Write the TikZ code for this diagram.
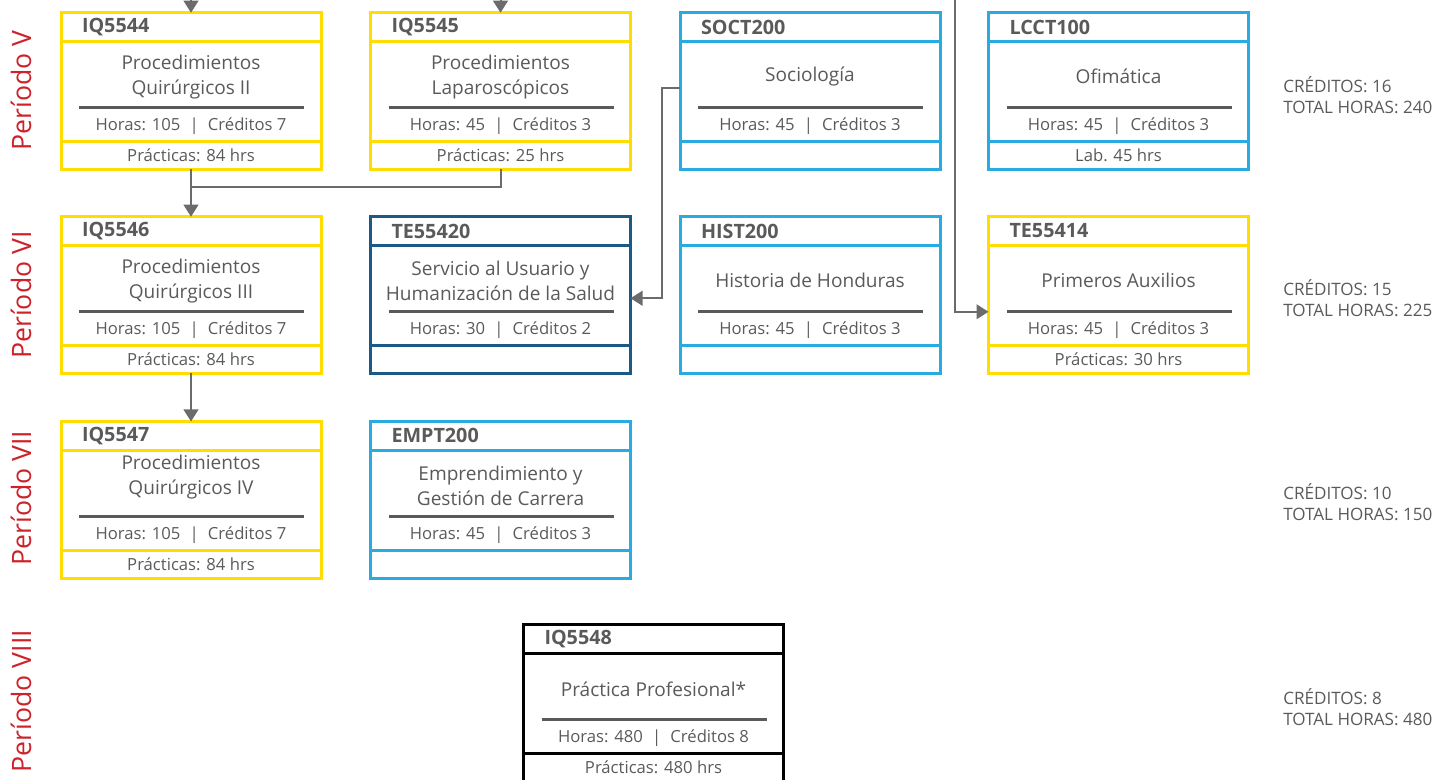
\documentclass[tikz,border=0pt]{standalone}
\usepackage{fontspec}
\setmainfont{Open Sans}
\usetikzlibrary{positioning,calc,arrows.meta}

\definecolor{amarillo}{HTML}{FFDD00}
\definecolor{celeste}{HTML}{29ABE2}
\definecolor{azul}{HTML}{1B5A86}
\definecolor{gristexto}{HTML}{5A5A5A}
\definecolor{grislinea}{HTML}{6B6B6B}
\definecolor{rojo}{HTML}{CC2229}

\tikzset{
  caja/.style={rectangle, line width=2.25pt, outer sep=0pt, inner sep=0pt,
    minimum width=195pt, text=gristexto},
  cab/.style={caja, minimum height=21.4pt, inner xsep=15.75pt, text width=163.5pt,
    align=left, font=\bfseries\fontsize{14.8}{16}\selectfont},
  cuerpo/.style={caja, minimum height=75pt},
  pie/.style={caja, minimum height=21pt, font=\fontsize{12.5}{14}\selectfont},
  titulo/.style={align=center, text=gristexto, inner sep=0pt,
    font=\fontsize{14.3}{18.75}\selectfont},
  horas/.style={text=gristexto, inner sep=0pt, font=\fontsize{12.5}{14}\selectfont},
  regla/.style={draw=gristexto, line width=2.25pt},
  periodo/.style={rotate=90, text=rojo, inner sep=0pt, font=\fontsize{20}{22}\selectfont},
  creditos/.style={anchor=west, align=left, text=gristexto, inner sep=0pt,
    font=\fontsize{12.8}{15.75}\selectfont},
  conector/.style={draw=grislinea, line width=1.5pt},
  flecha/.style={conector, -{Triangle[width=11pt,length=9pt]}}
}

\def\tituloy{35.5}
\newcommand{\sep}{\hspace{0.55em}|\hspace{0.55em}}
% #1 nombre, #2 x, #3 y, #4 color, #5 codigo, #6 titulo, #7 horas, #8 creditos, #9 pie
\newcommand{\materia}[9]{%
  \node[cab, draw=#4] (#1-c) at (#2,#3) {#5};
  \node[cuerpo, draw=#4, below=0pt of #1-c] (#1-m) {};
  \node[pie, draw=#4, below=0pt of #1-m] (#1-p) {#9};
  \node[titulo] (#1-t) at ($(#1-m.north)+(0,\tituloy)$) {#6};
  \coordinate (#1-rw) at ($(#1-m.north west)+(18,66.5)$);
  \coordinate (#1-re) at ($(#1-m.north east)+(-17,66.5)$);
  \draw[regla] (#1-rw) -- (#1-re);
  \node[horas] (#1-h) at ($(#1-m.north)+(0,85)$) {Horas: #7\sep Créditos #8};
}

\begin{document}
\begin{tikzpicture}[x=0.75pt, y=-0.75pt]
  \useasboundingbox (0,0) rectangle (1439,779);

  % periodos
  \node[periodo] (p5) at (21,90.5) {Período V};
  \node[periodo] (p6) at (21,295) {Período VI};
  \node[periodo] (p7) at (21,498) {Período VII};
  \node[periodo] (p8) at (21,701) {Período VIII};

  % periodo V
  \materia{iq5544}{191}{27}{amarillo}{IQ5544}{Procedimientos\\Quirúrgicos II}{105}{7}{Prácticas: 84 hrs}
  \materia{iq5545}{500.5}{27}{amarillo}{IQ5545}{Procedimientos\\Laparoscópicos}{45}{3}{Prácticas: 25 hrs}
  \materia{soct200}{810}{27}{celeste}{SOCT200}{Sociología}{45}{3}{}
  \materia{lcct100}{1118.5}{27}{celeste}{LCCT100}{Ofimática}{45}{3}{Lab. 45 hrs}

  % periodo VI
  \materia{iq5546}{191}{231}{amarillo}{IQ5546}{Procedimientos\\Quirúrgicos III}{105}{7}{Prácticas: 84 hrs}
  \materia{te55420}{500.5}{231}{azul}{TE55420}{Servicio al Usuario y\\Humanización de la Salud}{30}{2}{}
  \materia{hist200}{810}{231}{celeste}{HIST200}{Historia de Honduras}{45}{3}{}
  \materia{te55414}{1118.5}{231}{amarillo}{TE55414}{Primeros Auxilios}{45}{3}{Prácticas: 30 hrs}

  % periodo VII
  \def\tituloy{27.5}
  \materia{iq5547}{191}{435.75}{amarillo}{IQ5547}{Procedimientos\\Quirúrgicos IV}{105}{7}{Prácticas: 84 hrs}
  \def\tituloy{35.5}
  \materia{empt200}{500.5}{435.75}{celeste}{EMPT200}{Emprendimiento y\\Gestión de Carrera}{45}{3}{}

  % periodo VIII
  \def\tituloy{36.5}
  \materia{iq5548}{653.5}{639}{black}{IQ5548}{Práctica Profesional*}{480}{8}{Prácticas: 480 hrs}

  % creditos
  \node[creditos] (c5) at (1283,95.5) {CRÉDITOS: 16\\TOTAL HORAS: 240};
  \node[creditos] (c6) at (1283,298) {CRÉDITOS: 15\\TOTAL HORAS: 225};
  \node[creditos] (c7) at (1283,502.5) {CRÉDITOS: 10\\TOTAL HORAS: 150};
  \node[creditos] (c8) at (1283,707.5) {CRÉDITOS: 8\\TOTAL HORAS: 480};

  % conexiones
  \coordinate (entra1) at (191,-20);
  \coordinate (entra2) at (500.5,-20);
  \coordinate (entra3) at (955,-20);
  \coordinate (union) at ($(iq5544-p.south)+(0,18)$);
  \draw[flecha] (entra1) -- (iq5544-c.north);
  \draw[flecha] (entra2) -- (iq5545-c.north);
  \draw[flecha] (iq5544-p.south) -- (iq5546-c.north);
  \draw[conector] (iq5545-p.south) |- (union);
  \draw[flecha] (iq5546-p.south) -- (iq5547-c.north);
  \draw[flecha] ([yshift=2.25pt]soct200-m.west) -- ++(-18,0) |- ([yshift=-2.25pt]te55420-m.east);
  \draw[flecha] (entra3) |- (te55414-m.west |- te55414-rw);
\end{tikzpicture}
\end{document}
